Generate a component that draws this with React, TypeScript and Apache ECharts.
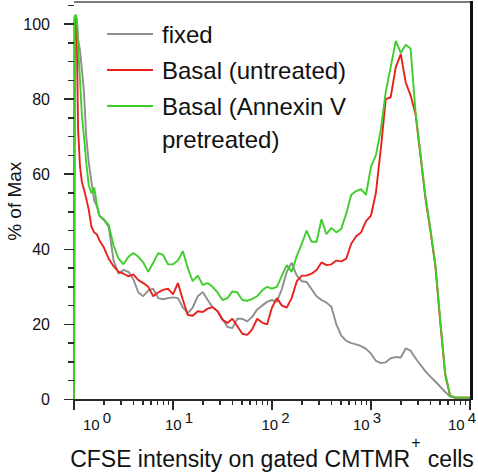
import React, { useEffect, useRef } from "react";
import * as echarts from "echarts";

// CFSE intensity sample positions (x)
const cfse = [
  1, 1.015, 1.04, 1.07, 1.1, 1.15, 1.2, 1.26, 1.33, 1.41, 1.5, 1.6, 1.7, 1.8,
  2, 2.24, 2.51, 2.82, 3.16, 3.55, 3.98, 4.47, 5.01, 5.62, 6.31, 7.08, 7.94, 8.91,
  10, 11.2, 12.6, 14.1, 15.8, 17.8, 20, 22.4, 25.1, 28.2, 31.6, 35.5, 39.8, 44.7, 50.1, 56.2, 63.1, 70.8, 79.4, 89.1,
  100, 112, 126, 141, 158, 178, 200, 224, 251, 282, 316, 355, 398, 447, 501, 562, 631, 708, 794, 891,
  1000, 1120, 1260, 1410, 1580, 1780, 2000, 2240, 2510, 2820, 3160, 3550, 3980, 4470, 5010, 5620, 6310, 7080, 7940, 8910,
  10000,
];

// % of Max, fixed cells
const fixedPct = [
  0, 101, 102.5, 101, 96, 93, 88, 82, 70, 63, 58, 53, 51.5, 49,
  47.8, 46, 37, 33.5, 34.5, 34, 32, 28.5, 27.5, 29, 29.5, 27, 26.7, 27,
  27.2, 27, 24.5, 23, 24.5, 27.5, 28.6, 26.5, 24.6, 23.5, 21.5, 19.3, 19, 21.5, 21.5, 20.8, 22, 24, 25, 26,
  26.5, 26, 29.5, 34, 36.4, 33, 31.5, 31.3, 29.4, 27.5, 26.5, 25.8, 24.7, 20, 17, 15.6, 15, 14.7, 14.2, 13.5,
  12.2, 10.3, 9.7, 9.9, 11, 11.3, 11.2, 13.6, 13, 11, 9.2, 7.5, 6.1, 4.8, 3.4, 2, 0.8, 0.5, 0.5, 0.5,
  0.5,
];

// % of Max, Basal (untreated)
const basalPct = [
  0, 102, 102, 95, 72, 62, 58, 56, 53.5, 50.5, 46, 44.5, 44, 42.5,
  40.5, 37.5, 35.5, 34, 33.5, 32.8, 33.3, 31.8, 31, 30, 27.5, 28.5, 29.2, 29.5,
  28, 31, 26.5, 22.5, 22.3, 23.5, 23.3, 24.2, 24.6, 23.5, 21.2, 20.4, 21.5, 19.5, 17.5, 17.2, 18.7, 21.5, 20.5, 20,
  24.5, 27, 25, 24.5, 27, 31.5, 33, 33, 33.5, 34.5, 36.5, 35.8, 36, 37, 36.8, 37.5, 41.5, 43.5, 44.5, 47.5,
  49, 55, 67, 80, 80.5, 88.5, 92, 84.5, 81, 76, 65, 53.5, 45, 35.5, 20.5, 6.5, 1, 0.5, 0.5, 0.5,
  0.5,
];

// % of Max, Basal (Annexin V pretreated)
const annexinPct = [
  0, 102, 102.4, 101, 94, 85, 76, 70, 63, 57, 55, 56.5, 52, 49,
  48, 46.5, 41, 37.5, 36, 38, 39, 38, 36.5, 34, 36.4, 39, 38.5, 36,
  36, 37, 39.5, 35, 31.5, 33, 30.5, 31, 30, 28.5, 26.5, 27, 28.8, 28.5, 26.5, 26.3, 26.8, 27.5, 29, 30,
  29.5, 30, 33, 35.8, 34, 38.2, 41.5, 45, 42, 42, 48, 44, 45.7, 44.5, 45.5, 49.5, 54.5, 55.5, 56, 54.5,
  62, 65, 72, 82, 88.5, 95.5, 92.3, 94.5, 93.5, 76.5, 65.5, 54, 45.5, 36, 21, 7, 1, 0.5, 0.5, 0.5,
  0.5,
];

const seriesNames = ["fixed", "Basal (untreated)", "Basal (Annexin V pretreated)"];
const seriesColors = ["#8e8e8e", "#e8211d", "#3fcd2c"];
const decadeTicks = [1, 10, 100, 1000, 10000];
const minorXTicks = [
  2, 3, 4, 5, 6, 7, 8, 9,
  20, 30, 40, 50, 60, 70, 80, 90,
  200, 300, 400, 500, 600, 700, 800, 900,
  2000, 3000, 4000, 5000, 6000, 7000, 8000, 9000,
];
const yMajorTicks = [0, 20, 40, 60, 80, 100];
const yMinorTicks = [5, 10, 15, 25, 30, 35, 45, 50, 55, 65, 70, 75, 85, 90, 95, 105];
const xMin = 1;
const xMax = 10000;
const yMax = 105.6;

const W = 478, H = 474;
const GRID = { left: 74, right: 8, top: 3, bottom: 74.5 };

const FONT = "'Liberation Sans', Arial, Helvetica, sans-serif";
const NARROW = "'Liberation Sans Narrow', 'Liberation Sans', Arial, sans-serif";
const INK = "#111111";
const AXIS = "#2a2a2a";

export default function App() {
  const ref = useRef<HTMLDivElement>(null);
  const overlayRef = useRef<HTMLDivElement>(null);

  useEffect(() => {
    if (!ref.current) return;
    const chart = echarts.init(ref.current, undefined, { renderer: "svg" });

    const baseTok = { fontSize: 15, fontFamily: FONT, color: INK, lineHeight: 22, verticalAlign: "bottom" };
    const supTok = { fontSize: 15, fontFamily: FONT, color: INK, lineHeight: 15, verticalAlign: "top" };
    const rich: any = {
      b0: { ...baseTok, padding: [0, 0, 0, 46] },
      b1: { ...baseTok, padding: [0, 0, 0, 12] },
      b2: { ...baseTok, padding: [0, 0, 0, 7] },
      b3: { ...baseTok },
      b4: { ...baseTok },
      s0: { ...supTok, padding: [0, 0, 0, 3] },
      s1: { ...supTok, padding: [0, 0, 0, 3] },
      s2: { ...supTok, padding: [0, 0, 0, 3] },
      s3: { ...supTok, padding: [0, 8, 0, 3] },
      s4: { ...supTok, padding: [0, 16, 0, 3] },
    };
    const dataSets = [fixedPct, basalPct, annexinPct];

    const option: any = {
      animation: false,
      backgroundColor: "#ffffff",
      grid: { ...GRID, outerBoundsMode: "none" },
      legend: {
        data: seriesNames,
        orient: "vertical",
        left: 107,
        top: 16,
        padding: 0,
        itemGap: 0,
        itemWidth: 46,
        itemHeight: 2,
        icon: "rect",
        formatter: (name: string) => (name === seriesNames[2] ? "Basal (Annexin V" : name),
        textStyle: { fontSize: 24, lineHeight: 36, color: INK, fontFamily: FONT, padding: [0, 0, 0, 4] },
        selectedMode: false,
      },
      graphic: [
        { type: "text", left: 162, top: 127, style: { text: "pretreated)", fontSize: 24, fontFamily: FONT, fill: INK } },
      ],
      xAxis: {
        type: "log",
        logBase: 10,
        min: xMin,
        max: xMax,
        position: "bottom",
        axisLine: { show: false, onZero: false },
        axisTick: { show: false },
        splitLine: { show: false },
        minorSplitLine: { show: false },
        axisLabel: {
          customValues: decadeTicks,
          margin: 10,
          formatter: (v: number) => {
            const i = Math.round(Math.log10(v));
            return `{b${i}|10}{s${i}|${i}}`;
          },
          rich,
        },
        name: "{t|CFSE intensity on gated CMTMR}{u|+}{t| cells}",
        nameLocation: "middle",
        nameGap: 35,
        nameMoveOverlap: false,
        nameTextStyle: {
          rich: {
            t: { fontSize: 23, fontFamily: FONT, color: INK, lineHeight: 35.5, verticalAlign: "bottom" },
            u: { fontSize: 16, fontFamily: FONT, color: INK, lineHeight: 16, verticalAlign: "top", padding: [0, 1, 0, 1] },
          },
        },
      },
      yAxis: {
        type: "value",
        min: 0,
        max: yMax,
        interval: 20,
        position: "left",
        axisLine: { show: false, onZero: false },
        axisTick: { show: false },
        splitLine: { show: false },
        axisLabel: { margin: 24, fontSize: 16, fontFamily: NARROW, color: INK, showMaxLabel: false },
        name: "% of Max",
        nameLocation: "middle",
        nameGap: 50,
        nameMoveOverlap: false,
        nameTextStyle: { fontSize: 19, fontFamily: FONT, color: INK },
      },
      series: seriesNames.map((name, si) => ({
        type: "line",
        name,
        z: 3,
        symbol: "none",
        smooth: false,
        lineStyle: { color: seriesColors[si], width: 1.9 },
        itemStyle: { color: seriesColors[si] },
        data: cfse.map((x, i) => [x, dataSets[si][i]]),
      })),
    };

    chart.setOption(option);

    // axis frame and ticks, placed through the chart's own scales (convertToPixel)
    const ov = overlayRef.current;
    if (ov) {
      ov.innerHTML = "";
      const px = (x: number, y: number): number[] | null => {
        try {
          const p = chart.convertToPixel({ gridIndex: 0 } as any, [x, y]) as any;
          return p && isFinite(p[0]) && isFinite(p[1]) ? p : null;
        } catch (e) {
          return null;
        }
      };
      const add = (l: number, t: number, w: number, h: number, c: string) => {
        const d = document.createElement("div");
        d.style.cssText = `position:absolute;left:${l}px;top:${t}px;width:${w}px;height:${h}px;background:${c};`;
        ov.appendChild(d);
      };
      const bl = px(xMin, 0);
      const tr = px(xMax, yMax);
      if (bl && tr) {
        const left = bl[0], bottom = bl[1], right = tr[0], top = tr[1];
        add(left, top - 2.5, right - left, 2, "#7c7c7c");
        add(right - 0.5, top - 2.5, 3, bottom - top + 3, "#111111");
        add(left, bottom - 1, right - left, 2, AXIS);
        decadeTicks.forEach((v) => {
          const c = px(v, 0);
          if (c) add(c[0] - 0.75, bottom, 1.5, 10, AXIS);
        });
        minorXTicks.forEach((v) => {
          const c = px(v, 0);
          if (c) add(c[0] - 0.75, bottom, 1.5, 5.5, AXIS);
        });
        yMajorTicks.forEach((v) => {
          const c = px(xMin, v);
          if (c) add(left - 10, c[1] - 0.75, 10, 1.5, AXIS);
        });
        yMinorTicks.forEach((v) => {
          const c = px(xMin, v);
          if (c) add(left - 6, c[1] - 0.75, 6, 1.5, AXIS);
        });
      }
    }

    return () => {
      chart.dispose();
      if (ov) ov.innerHTML = "";
    };
  }, []);

  return (
    <>
      <div
        ref={ref}
        style={{ position: "fixed", left: 0, top: 0, width: W, height: H, background: "#fff" }}
      />
      <div
        ref={overlayRef}
        style={{ position: "fixed", left: 0, top: 0, width: W, height: H, pointerEvents: "none" }}
      />
    </>
  );
}
